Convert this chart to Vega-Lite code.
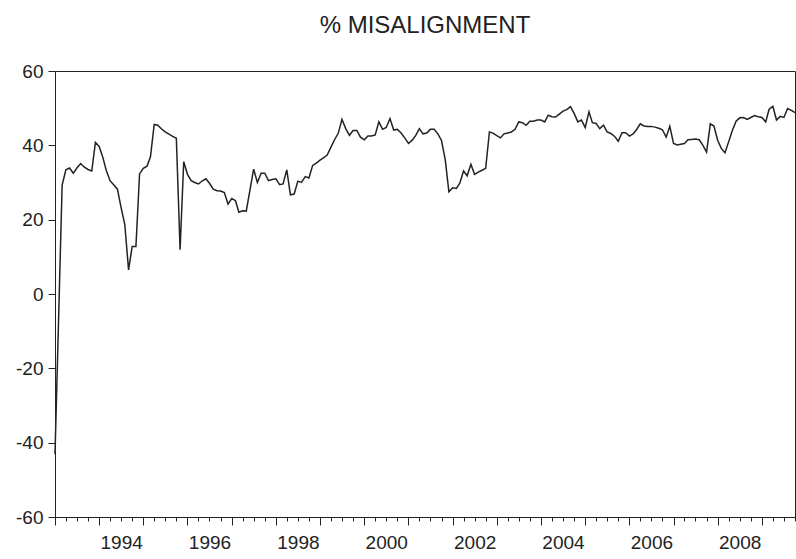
{
  "$schema": "https://vega.github.io/schema/vega-lite/v6.json",
  "autosize": {"type": "none"},
  "padding": {"left": 55, "top": 71, "right": 1, "bottom": 42},
  "width": 740,
  "height": 446,
  "background": "white",
  "title": {"text": "% MISALIGNMENT", "fontSize": 24, "font": "Liberation Sans", "fontWeight": "normal", "color": "#222", "offset": 24, "anchor": "middle"},
  "config": {"view": {"stroke": "#222", "strokeWidth": 1}},
  "data": {"values": [
    {"d":"1993-01-01","v":-43.1},{"d":"1993-03-01","v":29.3},{"d":"1993-04-01","v":33.4},{"d":"1993-05-01","v":33.9},{"d":"1993-06-01","v":32.5},{"d":"1993-07-01","v":33.9},{"d":"1993-08-01","v":35.1},{"d":"1993-09-01","v":34.1},{"d":"1993-10-01","v":33.5},{"d":"1993-11-01","v":33.1},{"d":"1993-12-01","v":40.8},
    {"d":"1994-01-01","v":39.7},{"d":"1994-02-01","v":36.7},{"d":"1994-03-01","v":33.2},{"d":"1994-04-01","v":30.5},{"d":"1994-05-01","v":29.4},{"d":"1994-06-01","v":28.2},{"d":"1994-07-01","v":23.3},{"d":"1994-08-01","v":18.7},{"d":"1994-09-01","v":6.5},{"d":"1994-10-01","v":12.8},{"d":"1994-11-01","v":12.8},{"d":"1994-12-01","v":32.3},
    {"d":"1995-01-01","v":33.8},{"d":"1995-02-01","v":34.4},{"d":"1995-03-01","v":36.9},{"d":"1995-04-01","v":45.6},{"d":"1995-05-01","v":45.4},{"d":"1995-06-01","v":44.4},{"d":"1995-07-01","v":43.6},{"d":"1995-08-01","v":43.0},{"d":"1995-09-01","v":42.4},{"d":"1995-10-01","v":41.9},{"d":"1995-11-01","v":11.9},{"d":"1995-12-01","v":35.6},
    {"d":"1996-01-01","v":32.2},{"d":"1996-02-01","v":30.5},{"d":"1996-03-01","v":30.0},{"d":"1996-04-01","v":29.6},{"d":"1996-05-01","v":30.4},{"d":"1996-06-01","v":31.0},{"d":"1996-07-01","v":29.8},{"d":"1996-08-01","v":28.2},{"d":"1996-09-01","v":27.8},{"d":"1996-10-01","v":27.7},{"d":"1996-11-01","v":27.3},{"d":"1996-12-01","v":24.2},
    {"d":"1997-01-01","v":25.7},{"d":"1997-02-01","v":25.1},{"d":"1997-03-01","v":22.0},{"d":"1997-04-01","v":22.4},{"d":"1997-05-01","v":22.3},{"d":"1997-07-01","v":33.6},{"d":"1997-08-01","v":30.0},{"d":"1997-09-01","v":32.5},{"d":"1997-10-01","v":32.5},{"d":"1997-11-01","v":30.5},{"d":"1997-12-01","v":30.8},
    {"d":"1998-01-01","v":31.0},{"d":"1998-02-01","v":29.4},{"d":"1998-03-01","v":29.6},{"d":"1998-04-01","v":33.4},{"d":"1998-05-01","v":26.7},{"d":"1998-06-01","v":26.9},{"d":"1998-07-01","v":30.3},{"d":"1998-08-01","v":30.1},{"d":"1998-09-01","v":31.6},{"d":"1998-10-01","v":31.2},{"d":"1998-11-01","v":34.6},{"d":"1998-12-01","v":35.2},
    {"d":"1999-01-01","v":36.0},{"d":"1999-02-01","v":36.7},{"d":"1999-03-01","v":37.4},{"d":"1999-04-01","v":39.5},{"d":"1999-05-01","v":41.5},{"d":"1999-06-01","v":43.3},{"d":"1999-07-01","v":47.0},{"d":"1999-08-01","v":44.5},{"d":"1999-09-01","v":42.7},{"d":"1999-10-01","v":44.0},{"d":"1999-11-01","v":44.0},{"d":"1999-12-01","v":42.2},
    {"d":"2000-01-01","v":41.5},{"d":"2000-02-01","v":42.5},{"d":"2000-03-01","v":42.5},{"d":"2000-04-01","v":42.8},{"d":"2000-05-01","v":46.3},{"d":"2000-06-01","v":44.3},{"d":"2000-07-01","v":44.8},{"d":"2000-08-01","v":47.2},{"d":"2000-09-01","v":44.1},{"d":"2000-10-01","v":44.3},{"d":"2000-11-01","v":43.3},{"d":"2000-12-01","v":42.0},
    {"d":"2001-01-01","v":40.5},{"d":"2001-02-01","v":41.4},{"d":"2001-03-01","v":42.6},{"d":"2001-04-01","v":44.5},{"d":"2001-05-01","v":43.1},{"d":"2001-06-01","v":43.3},{"d":"2001-07-01","v":44.3},{"d":"2001-08-01","v":44.3},{"d":"2001-09-01","v":43.1},{"d":"2001-10-01","v":41.3},{"d":"2001-11-01","v":36.1},{"d":"2001-12-01","v":27.5},
    {"d":"2002-01-01","v":28.6},{"d":"2002-02-01","v":28.4},{"d":"2002-03-01","v":29.8},{"d":"2002-04-01","v":33.1},{"d":"2002-05-01","v":31.8},{"d":"2002-06-01","v":34.9},{"d":"2002-07-01","v":32.2},{"d":"2002-08-01","v":32.8},{"d":"2002-09-01","v":33.3},{"d":"2002-10-01","v":33.8},{"d":"2002-11-01","v":43.6},{"d":"2002-12-01","v":43.3},
    {"d":"2003-01-01","v":42.6},{"d":"2003-02-01","v":42.0},{"d":"2003-03-01","v":43.1},{"d":"2003-04-01","v":43.3},{"d":"2003-05-01","v":43.6},{"d":"2003-06-01","v":44.3},{"d":"2003-07-01","v":46.3},{"d":"2003-08-01","v":46.1},{"d":"2003-09-01","v":45.4},{"d":"2003-10-01","v":46.5},{"d":"2003-11-01","v":46.5},{"d":"2003-12-01","v":46.8},
    {"d":"2004-01-01","v":46.8},{"d":"2004-02-01","v":46.3},{"d":"2004-03-01","v":48.1},{"d":"2004-04-01","v":47.7},{"d":"2004-05-01","v":47.6},{"d":"2004-06-01","v":48.4},{"d":"2004-07-01","v":49.2},{"d":"2004-08-01","v":49.6},{"d":"2004-09-01","v":50.4},{"d":"2004-10-01","v":48.6},{"d":"2004-11-01","v":46.3},{"d":"2004-12-01","v":46.8},
    {"d":"2005-01-01","v":44.8},{"d":"2005-02-01","v":49.0},{"d":"2005-03-01","v":46.1},{"d":"2005-04-01","v":45.9},{"d":"2005-05-01","v":44.5},{"d":"2005-06-01","v":45.4},{"d":"2005-07-01","v":43.6},{"d":"2005-08-01","v":43.2},{"d":"2005-09-01","v":42.4},{"d":"2005-10-01","v":41.1},{"d":"2005-11-01","v":43.4},{"d":"2005-12-01","v":43.4},
    {"d":"2006-01-01","v":42.5},{"d":"2006-02-01","v":43.1},{"d":"2006-03-01","v":44.2},{"d":"2006-04-01","v":45.8},{"d":"2006-05-01","v":45.2},{"d":"2006-06-01","v":45.1},{"d":"2006-07-01","v":45.1},{"d":"2006-08-01","v":44.9},{"d":"2006-09-01","v":44.6},{"d":"2006-10-01","v":44.2},{"d":"2006-11-01","v":42.2},{"d":"2006-12-01","v":45.1},
    {"d":"2007-01-01","v":40.5},{"d":"2007-02-01","v":40.1},{"d":"2007-03-01","v":40.3},{"d":"2007-04-01","v":40.5},{"d":"2007-05-01","v":41.5},{"d":"2007-06-01","v":41.6},{"d":"2007-07-01","v":41.7},{"d":"2007-08-01","v":41.5},{"d":"2007-09-01","v":40.0},{"d":"2007-10-01","v":38.2},{"d":"2007-11-01","v":45.8},{"d":"2007-12-01","v":45.2},
    {"d":"2008-01-01","v":41.3},{"d":"2008-02-01","v":39.1},{"d":"2008-03-01","v":38.0},{"d":"2008-04-01","v":41.0},{"d":"2008-05-01","v":44.0},{"d":"2008-06-01","v":46.5},{"d":"2008-07-01","v":47.4},{"d":"2008-08-01","v":47.5},{"d":"2008-09-01","v":47.0},{"d":"2008-10-01","v":47.5},{"d":"2008-11-01","v":48.0},{"d":"2008-12-01","v":47.7},
    {"d":"2009-01-01","v":47.5},{"d":"2009-02-01","v":46.3},{"d":"2009-03-01","v":49.7},{"d":"2009-04-01","v":50.5},{"d":"2009-05-01","v":46.8},{"d":"2009-06-01","v":47.8},{"d":"2009-07-01","v":47.5},{"d":"2009-08-01","v":49.9},{"d":"2009-09-01","v":49.4},{"d":"2009-10-01","v":48.8}
  ]},
  "mark": {"type": "line", "color": "#222", "strokeWidth": 1.5},
  "encoding": {
    "x": {
      "field": "d", "type": "temporal",
      "scale": {"type": "utc", "domain": [{"year": 1993, "month": 1, "date": 1, "utc": true}, {"year": 2009, "month": 10, "date": 1, "utc": true}], "nice": false},
      "axis": {
        "title": null, "grid": false, "domainColor": "#222", "tickColor": "#222",
        "tickCount": {"interval": "month", "step": 3},
        "tickSize": {"condition": {"test": "utcmonth(datum.value) === 0", "value": 8}, "value": 4},
        "labelExpr": "utcmonth(datum.value) === 0 && utcyear(datum.value) % 2 === 0 ? utcFormat(datum.value, '%Y') : ''",
        "labelOffset": 22, "labelFontSize": 19, "labelFont": "Liberation Sans", "labelColor": "#222",
        "labelPadding": 8, "labelOverlap": false, "labelFlush": false, "labelBound": false
      }
    },
    "y": {
      "field": "v", "type": "quantitative",
      "scale": {"domain": [-60, 60], "nice": false, "zero": false},
      "axis": {
        "title": null, "grid": false, "values": [-60, -40, -20, 0, 20, 40, 60],
        "labelExpr": "datum.value < 0 ? '-' + abs(datum.value) : '' + datum.value",
        "domainColor": "#222", "tickColor": "#222", "tickSize": 7,
        "labelPadding": 5, "labelFontSize": 19, "labelFont": "Liberation Sans", "labelColor": "#222"
      }
    }
  }
}
